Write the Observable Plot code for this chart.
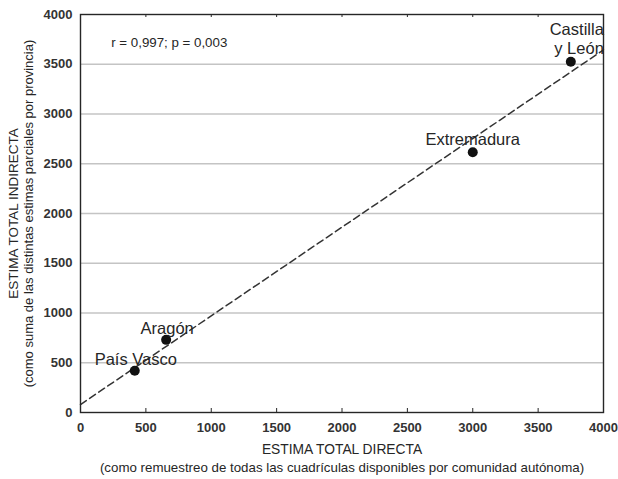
<!DOCTYPE html>
<html>
<head>
<meta charset="utf-8">
<script src="https://cdn.jsdelivr.net/npm/d3@7"></script>
<script src="https://cdn.jsdelivr.net/npm/@observablehq/plot@0.6"></script>
<style>
  html, body { margin: 0; padding: 0; background: #fff; }
  #chart svg { font-family: "Liberation Sans", Arial, sans-serif; }
</style>
</head>
<body>
<div id="chart"></div>
<script>
// Comunidades autónomas: estima total directa vs. estima total indirecta
const regions = ["País Vasco", "Aragón", "Extremadura", "Castilla\ny León"];
const directa = [415, 655, 3000, 3750];
const indirecta = [420, 730, 2615, 3525];
const xTicks = [0, 500, 1000, 1500, 2000, 2500, 3000, 3500, 4000];
const yTicks = [0, 500, 1000, 1500, 2000, 2500, 3000, 3500, 4000];
const statsLabel = "r = 0,997; p = 0,003";
const xTitle = "ESTIMA TOTAL DIRECTA";
const xSubtitle = "(como remuestreo de todas las cuadrículas disponibles por comunidad autónoma)";
const yTitle = "ESTIMA TOTAL INDIRECTA";
const ySubtitle = "(como suma de las distintas estimas parciales por provincia)";

const points = regions.map((name, i) => ({name, x: directa[i], y: indirecta[i]}));

// Least-squares fit drawn across the full x domain
const mx = d3.mean(directa), my = d3.mean(indirecta);
const slope = d3.sum(directa, (x, i) => (x - mx) * (indirecta[i] - my)) /
              d3.sum(directa, x => (x - mx) ** 2);
const intercept = my - slope * mx;
const xDomain = [0, 4000];
const fit = xDomain.map(x => ({x, y: intercept + slope * x}));

// label placement relative to each dot
const labelStyle = {
  "País Vasco":       {anchor: "middle", dx: 1,  dy: -6},
  "Aragón":           {anchor: "middle", dx: 1,  dy: -6},
  "Extremadura":      {anchor: "middle", dx: 0,  dy: -7},
  "Castilla\ny León": {anchor: "end",    dx: 33, dy: -8}
};

const W = 618, H = 479;
const margin = {top: 14, right: 15, bottom: 67, left: 80};
const innerH = H - margin.top - margin.bottom;
const ink = "#262626";

const labelMarks = points.map(p => Plot.text([p], {
  x: "x", y: "y", text: "name",
  textAnchor: labelStyle[p.name].anchor,
  lineAnchor: "bottom",
  lineHeight: 1.15,
  dx: labelStyle[p.name].dx,
  dy: labelStyle[p.name].dy,
  fontSize: 16.5,
  fill: ink
}));

const chart = Plot.plot({
  width: W,
  height: H,
  marginTop: margin.top,
  marginRight: margin.right,
  marginBottom: margin.bottom,
  marginLeft: margin.left,
  x: {domain: xDomain},
  y: {domain: [0, 4000]},
  style: {fontFamily: "Liberation Sans, Arial, sans-serif", color: ink},
  marks: [
    Plot.ruleY(yTicks.slice(1, -1), {stroke: "#c4c4c4", strokeWidth: 1.6}),
    // inward ticks on bottom and top edges
    Plot.ruleX(xTicks.slice(1, -1), {stroke: ink, strokeWidth: 1, insetTop: innerH - 4}),
    Plot.ruleX(xTicks.slice(1, -1), {stroke: ink, strokeWidth: 1, insetBottom: innerH - 3}),
    Plot.axisX(xTicks, {tickSize: 0, tickPadding: 10, fontSize: 13, fontWeight: "bold", fill: "#333", label: null, tickFormat: d => String(d)}),
    Plot.axisY(yTicks, {tickSize: 0, tickPadding: 8, fontSize: 13, fontWeight: "bold", fill: "#333", label: null, tickFormat: d => String(d)}),
    Plot.line(fit, {x: "x", y: "y", stroke: "#333", strokeWidth: 1.5, strokeDasharray: "7,4"}),
    Plot.dot(points, {x: "x", y: "y", r: 5, fill: "#111", stroke: "none"}),
    ...labelMarks,
    Plot.text([statsLabel], {x: 235, y: 3715, text: d => d, textAnchor: "start", fontSize: 13.3, fill: ink}),
    Plot.frame({stroke: ink, strokeWidth: 1.4}),
    // axis titles
    Plot.text([xTitle], {frameAnchor: "bottom", text: d => d, dy: 41, fontSize: 13.8, fill: ink}),
    Plot.text([xSubtitle], {frameAnchor: "bottom", text: d => d, dy: 59, fontSize: 13.3, fill: ink}),
    Plot.text([yTitle], {frameAnchor: "left", textAnchor: "middle", text: d => d, rotate: -90, dx: -67, fontSize: 13.5, fill: ink}),
    Plot.text([ySubtitle], {frameAnchor: "left", textAnchor: "middle", text: d => d, rotate: -90, dx: -52, fontSize: 13, fill: ink})
  ]
});

document.getElementById("chart").appendChild(chart);
</script>
</body>
</html>
